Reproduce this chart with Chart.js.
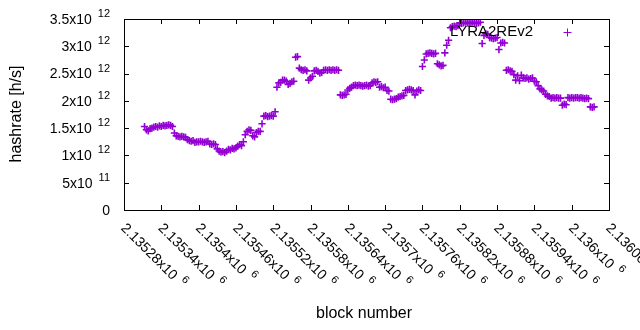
<!DOCTYPE html>
<html>
<head>
<meta charset="utf-8">
<script src="https://cdn.jsdelivr.net/npm/chart.js@4"></script>
<style>
  html, body { margin: 0; padding: 0; background: #fff; }
  #wrap { width: 640px; height: 330px; }
</style>
</head>
<body>
<div id="wrap"><canvas id="hashChart" width="640" height="330"></canvas></div>
<script>
// one sample every blockStep blocks, starting at firstBlock
const firstBlock = 2135313;
const blockStep = 3;

// hashrate, in units of 10^12 h/s
const hashrate = [
  1.53, 1.47, 1.45, 1.49, 1.50, 1.52, 1.53, 1.52, 1.54, 1.53,
  1.55, 1.54, 1.55, 1.56, 1.55, 1.53, 1.41, 1.36, 1.35, 1.34,
  1.35, 1.34, 1.33, 1.29, 1.27, 1.26, 1.27, 1.24, 1.25, 1.25,
  1.26, 1.25, 1.24, 1.25, 1.26, 1.21, 1.20, 1.21, 1.20, 1.12,
  1.08, 1.06, 1.07, 1.05, 1.08, 1.11, 1.10, 1.13, 1.12, 1.14,
  1.17, 1.20, 1.18, 1.25, 1.38, 1.44, 1.47, 1.46, 1.36, 1.34,
  1.42, 1.44, 1.44, 1.58, 1.72, 1.73, 1.71, 1.72, 1.73, 1.72,
  1.80, 2.25, 2.33, 2.34, 2.38, 2.38, 2.36, 2.30, 2.32, 2.35,
  2.36, 2.80, 2.81, 2.60, 2.57, 2.56, 2.57, 2.55, 2.38, 2.42,
  2.45, 2.55, 2.56, 2.54, 2.51, 2.52, 2.56, 2.57, 2.56, 2.57,
  2.56, 2.57, 2.56, 2.57, 2.56, 2.11, 2.10, 2.11, 2.12, 2.20,
  2.23, 2.25, 2.28, 2.29, 2.28, 2.29, 2.28, 2.27, 2.28, 2.29,
  2.27, 2.28, 2.33, 2.35, 2.34, 2.35, 2.25, 2.26, 2.24, 2.25,
  2.19, 2.18, 2.03, 2.02, 2.03, 2.04, 2.07, 2.08, 2.09, 2.10,
  2.19, 2.20, 2.21, 2.20, 2.19, 2.11, 2.18, 2.20, 2.19, 2.63,
  2.75, 2.86, 2.87, 2.88, 2.87, 2.86, 2.87, 2.68, 2.66, 2.64,
  2.65, 2.88, 3.02, 3.11, 3.34, 3.36, 3.37, 3.36, 3.38, 3.43,
  3.42, 3.43, 3.44, 3.43, 3.42, 3.43, 3.44, 3.43, 3.42, 3.43,
  3.44, 3.05, 3.20, 3.23, 3.22, 3.16, 3.15, 3.14, 3.15, 3.16,
  2.94, 3.06, 3.07, 3.06, 2.56, 2.57, 2.55, 2.54, 2.48, 2.38,
  2.46, 2.37, 2.47, 2.42, 2.41, 2.42, 2.40, 2.41, 2.42, 2.36,
  2.35, 2.28, 2.22, 2.20, 2.18, 2.12, 2.09, 2.08, 2.05, 2.06,
  2.05, 2.06, 2.05, 2.05, 1.92, 1.94, 1.93, 2.06, 2.05, 2.06,
  2.05, 2.06, 2.06, 2.05, 2.06, 2.05, 2.04, 2.05, 2.04, 1.89,
  1.88, 1.89
];

const xTicks = [2135280, 2135340, 2135400, 2135460, 2135520, 2135580, 2135640,
  2135700, 2135760, 2135820, 2135880, 2135940, 2136000, 2136060];
const xTickLabels = ["2.13528", "2.13534", "2.1354", "2.13546", "2.13552", "2.13558", "2.13564",
  "2.1357", "2.13576", "2.13582", "2.13588", "2.13594", "2.136", "2.13606"];
const xTickExp = "6";

const yTicks = [0, 0.5e12, 1e12, 1.5e12, 2e12, 2.5e12, 3e12, 3.5e12];
const yTickLabels = ["0", "5x10", "1x10", "1.5x10", "2x10", "2.5x10", "3x10", "3.5x10"];
const yTickExp = ["", "11", "12", "12", "12", "12", "12", "12"];

const seriesName = "LYRA2REv2";
const xTitle = "block number";
const yTitle = "hashrate [h/s]";

const purple = "#9400d3";
const fontFam = "'Liberation Sans', Arial, sans-serif";

const points = hashrate.map((v, i) => ({ x: firstBlock + i * blockStep, y: v * 1e12 }));

// gnuplot-like frame: border, inward ticks, labels with superscripts, key
const gnuplotFrame = {
  id: "gnuplotFrame",
  afterDatasetsDraw(chart) {
    const { ctx, chartArea: a, scales } = chart;
    const xs = scales.x, ys = scales.y;
    ctx.save();
    ctx.strokeStyle = "#000";
    ctx.lineWidth = 1;
    ctx.strokeRect(Math.round(a.left) + 0.5, Math.round(a.top) + 0.5,
      Math.round(a.right - a.left), Math.round(a.bottom - a.top));

    const tl = 5;
    ctx.beginPath();
    yTicks.forEach(v => {
      const y = Math.round(ys.getPixelForValue(v)) + 0.5;
      ctx.moveTo(a.left, y); ctx.lineTo(a.left + tl, y);
      ctx.moveTo(a.right, y); ctx.lineTo(a.right - tl, y);
    });
    xTicks.forEach(v => {
      const x = Math.round(xs.getPixelForValue(v)) + 0.5;
      ctx.moveTo(x, a.bottom); ctx.lineTo(x, a.bottom - tl);
      ctx.moveTo(x, a.top); ctx.lineTo(x, a.top + tl);
    });
    ctx.stroke();

    ctx.fillStyle = "#000";
    // y tick labels, right aligned
    const yRight = 110;
    yTicks.forEach((v, i) => {
      const y = ys.getPixelForValue(v) + 1;
      ctx.textBaseline = "middle";
      ctx.textAlign = "right";
      let right = yRight;
      if (yTickExp[i]) {
        ctx.font = "11px " + fontFam;
        const w = ctx.measureText(yTickExp[i]).width;
        ctx.textAlign = "left";
        ctx.fillText(yTickExp[i], yRight - w, y - 6);
        right = yRight - w - 6;
        ctx.textAlign = "right";
      }
      ctx.font = "14px " + fontFam;
      ctx.fillText(yTickLabels[i], right, y);
    });

    // x tick labels, rotated by 45 degrees clockwise
    xTicks.forEach((v, i) => {
      const x = xs.getPixelForValue(v);
      ctx.save();
      ctx.translate(x - 1, a.bottom + 16);
      ctx.rotate(Math.PI / 4);
      ctx.textAlign = "left";
      ctx.textBaseline = "middle";
      ctx.font = "14px " + fontFam;
      const base = xTickLabels[i] + "x10";
      ctx.fillText(base, 0, 0);
      const w = ctx.measureText(base).width;
      ctx.font = "11px " + fontFam;
      ctx.fillText(xTickExp, w + 6, -6);
      ctx.restore();
    });

    // axis titles
    ctx.font = "16px " + fontFam;
    ctx.textAlign = "center";
    ctx.textBaseline = "middle";
    ctx.fillText(xTitle, 364, 314);
    ctx.save();
    ctx.translate(17, 114);
    ctx.rotate(-Math.PI / 2);
    ctx.fillText(yTitle, 0, 0);
    ctx.restore();

    // key
    ctx.font = "15px " + fontFam;
    ctx.textAlign = "right";
    ctx.fillText(seriesName, 533, 32);
    ctx.strokeStyle = purple;
    ctx.beginPath();
    ctx.moveTo(563.5, 32.5); ctx.lineTo(571.5, 32.5);
    ctx.moveTo(567.5, 28.5); ctx.lineTo(567.5, 36.5);
    ctx.stroke();
    ctx.restore();
  }
};

new Chart(document.getElementById("hashChart"), {
  type: "scatter",
  data: {
    datasets: [{
      label: seriesName,
      data: points,
      pointStyle: "cross",
      pointRadius: 3.6,
      pointHoverRadius: 3.6,
      borderColor: purple,
      backgroundColor: purple,
      borderWidth: 1.6,
      showLine: false
    }]
  },
  options: {
    responsive: false,
    animation: false,
    devicePixelRatio: 1,
    layout: { padding: { top: 19, right: 31, left: 0, bottom: 0 } },
    plugins: { legend: { display: false }, tooltip: { enabled: false } },
    scales: {
      x: {
        type: "linear",
        min: 2135280,
        max: 2136060,
        grid: { display: false },
        border: { display: false },
        ticks: { display: false, stepSize: 60 },
        afterFit(s) { s.height = 120; }
      },
      y: {
        min: 0,
        max: 3.5e12,
        grid: { display: false },
        border: { display: false },
        ticks: { display: false, stepSize: 0.5e12 },
        afterFit(s) { s.width = 124; }
      }
    }
  },
  plugins: [gnuplotFrame]
});
</script>
</body>
</html>
